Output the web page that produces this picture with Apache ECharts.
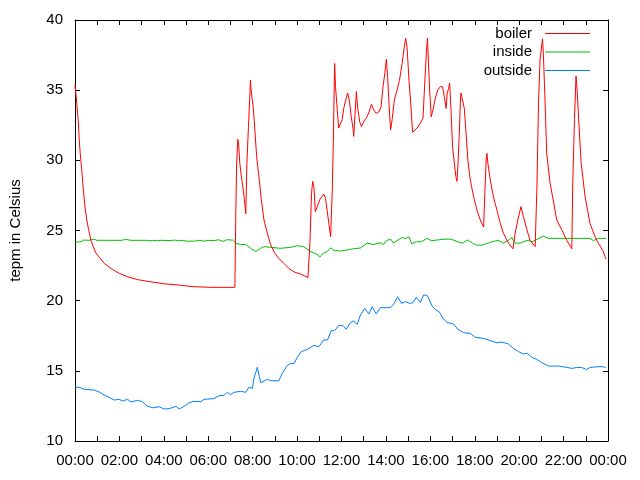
<!DOCTYPE html>
<html>
<head>
<meta charset="utf-8">
<script src="https://cdn.jsdelivr.net/npm/echarts@6/dist/echarts.min.js"></script>
<style>html,body{margin:0;padding:0;background:#fff}#c{width:640px;height:480px}</style>
</head>
<body>
<div id="c"></div>
<script>
// time in hours since 00:00, values in Celsius
var boilerT = [0.0,0.08,0.15,0.19,0.24,0.30,0.35,0.39,0.45,0.53,0.62,0.72,0.82,0.94,1.09,1.32,1.62,1.99,2.37,2.82,3.27,4.01,4.76,5.29,6.11,7.20,
7.24,7.28,7.33,7.37,7.42,7.49,7.56,7.63,7.69,7.74,7.81,7.87,7.90,7.92,7.97,8.03,8.10,8.18,8.28,8.39,8.51,8.66,8.81,8.99,9.18,9.41,9.63,9.86,10.16,10.49,10.55,
10.58,10.65,10.70,10.76,10.82,10.91,11.02,11.20,11.28,11.36,11.43,11.51,11.58,11.63,11.69,11.73,11.81,11.87,11.96,12.03,12.10,12.19,12.28,12.35,12.44,12.53,12.55,12.62,12.67,12.73,12.82,12.90,13.00,13.15,13.24,13.35,13.45,13.56,13.68,13.78,13.87,13.95,14.02,14.08,14.14,14.21,14.28,14.38,14.50,14.61,14.73,14.83,14.89,14.95,15.04,15.13,15.20,15.40,15.55,15.67,15.74,15.82,15.87,15.91,15.97,16.04,16.12,16.22,16.33,16.45,16.55,16.63,16.71,16.76,16.82,16.87,16.93,17.00,17.08,17.15,17.20,17.24,17.30,17.35,17.38,17.45,17.53,17.62,17.69,17.80,17.95,18.10,18.25,18.40,18.46,18.52,18.55,18.59,18.70,18.84,19.00,19.15,19.29,19.52,19.72,19.82,19.94,20.08,20.19,20.35,20.49,20.72,20.80,20.87,20.94,21.05,21.09,21.17,21.24,21.39,21.54,21.69,21.92,22.14,22.37,22.41,22.49,22.56,22.61,22.68,22.79,22.97,23.19,23.42,23.56,23.76,23.91];
var boilerV = [35.4,34.06,32.75,31.45,30.4,29.4,28.4,27.65,26.7,25.75,25.0,24.3,23.85,23.4,23.1,22.65,22.3,21.95,21.7,21.5,21.38,21.2,21.1,21.0,20.95,20.95,
26.2,29.8,31.5,31.1,29.8,28.85,28.1,27.2,26.2,29.8,32.4,34.5,35.7,35.2,34.5,33.7,32.15,30.25,28.85,27.2,25.75,24.8,24.0,23.4,23.0,22.65,22.3,22.05,21.9,21.65,21.6,
24.2,27.65,28.5,28.1,26.35,26.7,27.2,27.6,27.3,26.35,25.5,24.55,27.65,31.2,36.9,35.25,33.6,32.3,32.65,32.9,33.7,34.3,34.8,34.3,33.1,32.15,31.7,33.6,34.9,33.7,32.75,32.4,32.75,33.1,33.45,34.0,33.6,33.35,33.45,33.8,35.25,36.2,37.2,35.9,34.0,32.15,32.9,34.3,35.0,35.7,36.9,38.1,38.7,38.1,35.7,33.8,32.0,32.3,32.65,33.0,35.25,37.6,38.7,37.15,35.0,33.1,33.6,34.4,35.0,35.25,35.25,34.55,33.7,34.8,35.1,35.5,33.6,31.0,29.8,28.85,28.5,29.55,31.7,34.05,34.8,34.3,33.7,31.7,30.0,28.6,27.4,26.45,25.75,25.25,27.9,30.25,30.5,29.8,28.6,27.4,26.45,25.5,24.8,24.1,23.7,24.8,25.75,26.7,26.0,25.05,24.3,23.85,28.1,34.05,37.15,38.65,37.6,34.05,30.5,28.4,27.1,25.75,25.05,24.3,23.7,28.1,32.9,36.0,35.0,32.9,29.8,27.4,25.5,24.55,24.1,23.6,22.95];

var insideT = [0.0,0.27,0.40,0.63,0.84,0.99,1.17,2.07,2.29,2.52,3.19,3.33,3.51,3.69,3.87,4.31,4.49,4.67,4.85,5.03,5.39,5.62,5.80,5.98,6.25,6.47,6.65,6.83,7.10,7.24,7.46,7.69,7.91,8.13,8.36,8.51,8.81,9.26,9.71,10.01,10.29,10.61,10.91,11.02,11.19,11.36,11.51,11.64,11.96,12.22,12.54,12.85,13.15,13.43,13.75,13.89,14.04,14.22,14.34,14.47,14.73,14.88,15.03,15.17,15.37,15.60,15.85,16.04,16.31,16.58,16.94,17.23,17.44,17.68,17.89,18.10,18.38,18.79,19.06,19.28,19.51,19.67,19.82,20.04,20.36,20.58,20.85,21.09,21.31,22.29,23.19,23.34,23.56,23.91];
var insideV = [24.16,24.2,24.32,24.3,24.38,24.3,24.3,24.3,24.36,24.3,24.3,24.26,24.3,24.26,24.3,24.28,24.32,24.26,24.3,24.24,24.24,24.3,24.24,24.3,24.28,24.34,24.22,24.34,24.32,24.1,24.0,24.0,23.73,23.5,23.73,23.85,23.8,23.73,23.8,23.92,23.85,23.5,23.3,23.1,23.4,23.5,23.77,23.6,23.53,23.6,23.7,23.75,24.1,24.0,24.13,24.0,24.3,24.37,24.1,24.25,24.5,24.42,24.56,24.05,24.2,24.2,24.44,24.28,24.32,24.38,24.38,24.2,24.1,24.32,24.1,23.94,23.98,24.2,24.3,24.1,24.3,24.5,24.1,24.1,24.3,24.2,24.4,24.6,24.44,24.44,24.44,24.27,24.44,24.44];

var outsideT = [0.0,0.19,0.42,0.87,1.09,1.32,1.62,1.77,1.99,2.14,2.37,2.52,2.82,3.04,3.24,3.49,3.79,4.01,4.24,4.54,4.69,4.91,5.14,5.36,5.66,5.81,6.26,6.49,6.71,6.86,7.01,7.16,7.46,7.69,7.83,7.99,8.06,8.21,8.36,8.66,8.81,9.18,9.33,9.56,9.71,9.86,10.01,10.19,10.46,10.76,10.98,11.20,11.37,11.54,11.69,11.88,12.09,12.21,12.40,12.55,12.71,12.85,13.05,13.23,13.38,13.56,13.75,14.20,14.35,14.53,14.70,14.88,15.06,15.22,15.37,15.55,15.70,15.88,16.08,16.22,16.40,16.57,16.75,17.05,17.24,17.50,17.80,18.02,18.40,18.70,19.00,19.22,19.52,19.74,19.97,20.19,20.37,20.57,20.79,21.02,21.32,21.77,22.07,22.37,22.59,22.82,23.04,23.19,23.49,23.79,23.90];
var outsideV = [13.83,13.83,13.68,13.63,13.49,13.28,13.04,12.92,12.97,12.85,12.97,12.78,12.9,12.8,12.49,12.37,12.44,12.28,12.3,12.47,12.28,12.47,12.73,12.83,12.8,12.97,13.02,13.23,13.25,13.47,13.3,13.47,13.54,13.47,13.83,13.76,14.47,15.25,14.15,14.39,14.3,14.29,14.82,15.39,15.53,15.53,15.96,16.37,16.53,16.81,16.72,17.2,17.2,17.86,17.86,18.24,18.2,17.96,18.43,18.55,18.31,18.98,19.45,19.05,19.57,19.05,19.5,19.5,19.76,20.28,19.81,19.93,19.81,19.86,20.24,19.88,20.42,20.33,19.62,19.38,19.21,18.74,18.45,18.33,17.96,17.72,17.67,17.39,17.31,17.15,17.0,17.05,16.91,16.6,16.37,16.2,16.25,15.96,15.82,15.58,15.34,15.34,15.27,15.17,15.24,15.24,15.09,15.24,15.29,15.29,15.22];

var seriesNames = ['boiler','inside','outside'];
var seriesColors = ['#ff0000','#00c000','#0080ff'];

function zip(t, v){ var r=[]; for(var i=0;i<t.length;i++) r.push([t[i], v[i]]); return r; }
function fmtHour(v){ var h = Math.round(v) % 24; return (h<10?'0':'')+h+':00'; }

var FONT = 'Liberation Sans';
var chart = echarts.init(document.getElementById('c'), null, {renderer:'canvas'});
var axisLine = {show:true, onZero:false, lineStyle:{color:'#000', width:1}};
var tick = {show:true, inside:true, length:5, lineStyle:{color:'#000'}};
var minor = {show:true, splitNumber:2, length:5, lineStyle:{color:'#000'}};
chart.setOption({
  animation:false,
  backgroundColor:'#fff',
  textStyle:{fontFamily:FONT},
  grid:{left:74, right:32, top:20, bottom:39, containLabel:false},
  legend:{
    orient:'vertical', right:45, top:20, align:'right', itemWidth:45, itemHeight:1, itemGap:1.5,
    icon:'rect', padding:5,
    textStyle:{fontFamily:FONT, fontSize:15, color:'#000', padding:[0,8,0,0], lineHeight:17},
    data:seriesNames.map(function(n,i){return {name:n, itemStyle:{color:seriesColors[i]}};})
  },
  xAxis:[{
    type:'value', min:0, max:24, interval:2,
    axisLine:axisLine, axisTick:tick, minorTick:minor, splitLine:{show:false},
    axisLabel:{formatter:fmtHour, color:'#000', fontSize:15, fontFamily:FONT, margin:12}
  },{
    type:'value', min:0, max:24, interval:2, position:'top',
    axisLine:axisLine, axisTick:tick, minorTick:minor, splitLine:{show:false},
    axisLabel:{show:false}
  }],
  yAxis:[{
    type:'value', min:10, max:40, interval:5,
    name:'tepm in Celsius', nameLocation:'middle', nameGap:52, nameRotate:90,
    nameTextStyle:{fontFamily:FONT, fontSize:15, color:'#000'},
    axisLine:axisLine, axisTick:tick, splitLine:{show:false},
    axisLabel:{color:'#000', fontSize:15, fontFamily:FONT, margin:12}
  },{
    type:'value', min:10, max:40, interval:5, position:'right',
    axisLine:axisLine, axisTick:tick, splitLine:{show:false},
    axisLabel:{show:false}
  }],
  series:[
    {name:'boiler', type:'line', data:zip(boilerT,boilerV)},
    {name:'inside', type:'line', data:zip(insideT,insideV)},
    {name:'outside', type:'line', data:zip(outsideT,outsideV)}
  ].map(function(s,i){
    s.showSymbol=false; s.symbol='none'; s.color=seriesColors[i];
    s.lineStyle={width:1, color:seriesColors[i]}; s.z = 3 - i;
    return s;
  })
});
</script>
</body>
</html>
